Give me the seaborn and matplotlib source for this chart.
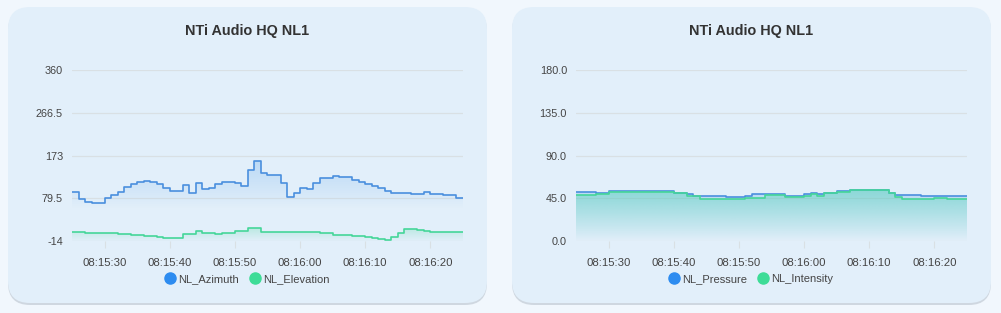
import numpy as np
import pandas as pd
import matplotlib
matplotlib.use("Agg")
import matplotlib.pyplot as plt
import matplotlib.dates as mdates
from matplotlib.patches import FancyBboxPatch
from matplotlib.lines import Line2D
import seaborn as sns

# ---------------- data ----------------
start_time = "2024-01-01 08:15:25"
n_points = 61
tick_labels = ["08:15:30", "08:15:40", "08:15:50", "08:16:00", "08:16:10", "08:16:20"]

nl_azimuth = [94, 77, 72, 68.5, 68.5, 79.5, 87, 94, 105, 111,
              114.5, 117.5, 114.5, 110, 103, 96, 96, 109.5, 90.5, 112,
              99, 101.5, 110.5, 114.5, 114.5, 112, 107, 141.5, 162, 134,
              131, 131, 112, 83, 90.5, 103, 99, 112, 123, 123,
              128.5, 125.5, 125.5, 119.5, 115, 111, 106.5, 101.5, 96, 90.5,
              90.5, 92, 89, 89, 92.5, 88, 88, 86, 86, 81, 81]
nl_elevation = [5, 5, 4, 3.5, 3.5, 3, 2.5, 2, 1, 0,
                -1, -2.5, -3.5, -5, -7, -8, -8, 0.5, 0.5, 8,
                3, 3, 0.5, 4.3, 4.3, 7, 7, 13.5, 13.5, 6,
                5.5, 5.5, 5, 5, 5, 5, 5, 5, 3, 3,
                0, 0, 0, -3, -3, -5, -7, -10, -12.5, -4.5,
                4, 11.5, 11.5, 10, 8, 6, 5.5, 5.5, 5.5, 5.5, 5.5]
nl_pressure = [51.3, 51.3, 51.3, 51, 51, 52.5, 52.5, 53, 53, 53,
               53, 53, 53, 53, 52.6, 51, 51, 49.5, 47.7, 47.7,
               47.7, 47.7, 47.7, 46.7, 46.7, 46.7, 47.7, 49.5, 49.5, 49.1,
               49.1, 49.1, 47.7, 47.7, 47.7, 49.1, 50.2, 49.5, 50.9, 50.9,
               52.6, 52.6, 53.7, 53.7, 54, 54, 54, 54, 51, 48.4,
               48.4, 48.4, 48.4, 47.6, 47.6, 47.6, 47.6, 47.6, 47.6, 47.4, 47.4]
nl_intensity = [48.4, 48.4, 48.4, 49.5, 49.5, 51.3, 51.3, 52, 52, 52,
                52, 52, 52, 52, 52, 50.2, 50.2, 47.7, 47.7, 44.5,
                44.5, 44.5, 44.5, 44.5, 44.5, 44.5, 45.6, 45.6, 45.6, 48.4,
                48.4, 48.4, 46.3, 46.3, 46.3, 47.7, 49.8, 47.7, 50.2, 50.2,
                51.7, 51.7, 53.3, 53.3, 53.5, 53.5, 53.5, 53.5, 50.5, 46.7,
                44.2, 44.2, 44.2, 44.2, 44.2, 45.3, 45.3, 44.2, 44.2, 44.2, 44.2]

left_yticks = [-14, 79.5, 173, 266.5, 360]
left_yticklabels = ["-14", "79.5", "173", "266.5", "360"]
right_yticks = [0, 45, 90, 135, 180]
right_yticklabels = ["0.0", "45.0", "90.0", "135.0", "180.0"]

chart_title = "NTi Audio HQ NL1"
left_series = ["NL_Azimuth", "NL_Elevation"]
right_series = ["NL_Pressure", "NL_Intensity"]

# ---------------- style ----------------
W, H = 1001, 313
page_bg = "#f1f7fd"
card_bg = "#e2effa"
blue_line = "#4a8fde"
green_line = "#45d699"
blue_dot = "#2d8cf0"
green_dot = "#3ddc97"
grid_col = "#d9e0e4"
text_col = "#444444"

sns.set_theme(style="white")
plt.rcParams["font.family"] = ["Liberation Sans", "DejaVu Sans"]

times = pd.date_range(start_time, periods=n_points, freq="s")
df = pd.DataFrame({"time": times,
                   "NL_Azimuth": nl_azimuth, "NL_Elevation": nl_elevation,
                   "NL_Pressure": nl_pressure, "NL_Intensity": nl_intensity})

fig = plt.figure(figsize=(W / 100, H / 100), dpi=100)
fig.patch.set_facecolor(page_bg)

# background card layer in pixel coords
bg = fig.add_axes([0, 0, 1, 1], zorder=-10)
bg.set_xlim(0, W)
bg.set_ylim(H, 0)
bg.axis("off")
for (x0, x1) in [(8, 487), (512, 991)]:
    shadow = FancyBboxPatch((x0, 9), x1 - x0, 296, boxstyle="round,pad=0,rounding_size=22",
                            fc="#b9c3ce", ec="none", alpha=0.6)
    bg.add_patch(shadow)
    card = FancyBboxPatch((x0, 7), x1 - x0, 296, boxstyle="round,pad=0,rounding_size=22",
                          fc=card_bg, ec="none")
    bg.add_patch(card)


def px_axes(x0, x1, ytop, ybot):
    return fig.add_axes([x0 / W, 1 - ybot / H, (x1 - x0) / W, (ybot - ytop) / H])


def gradient_fill(ax, xnum, y, color, a_top, y_hi, y_lo):
    poly = ax.fill_between(xnum, y, y_lo - 1000, step="post", color="none", lw=0)
    path = poly.get_paths()[0]
    rgb = matplotlib.colors.to_rgb(color)
    n = 256
    grad = np.zeros((n, 1, 4))
    grad[:, 0, :3] = rgb
    grad[:, 0, 3] = np.linspace(a_top, 0, n)
    ylim = ax.get_ylim()
    xlim = ax.get_xlim()
    im = ax.imshow(grad, aspect="auto", extent=[xnum[0], xnum[-1], y_lo, y_hi],
                   origin="upper", zorder=1, interpolation="bilinear")
    im.set_clip_path(path, transform=ax.transData)
    ax.set_ylim(ylim)
    ax.set_xlim(xlim)


def style_axes(ax, yticks, yticklabels, ylim):
    ax.set_facecolor("none")
    ax.set_ylim(*ylim)
    ax.set_xlim(times[0], times[-1])
    ax.set_yticks(yticks)
    ax.set_yticklabels(yticklabels)
    ax.set_xticks(pd.to_datetime(["2024-01-01 " + t for t in tick_labels]))
    ax.set_xticklabels(tick_labels)
    ax.grid(axis="y", color=grid_col, lw=0.9)
    ax.grid(axis="x", visible=False)
    for s in ax.spines.values():
        s.set_visible(False)
    ax.tick_params(axis="y", length=0, pad=6.5, labelsize=7.8, labelcolor=text_col)
    ax.tick_params(axis="x", length=5, width=0.8, color=grid_col, pad=7.5,
                   labelsize=8.2, labelcolor=text_col, bottom=True)
    ax.set_xlabel("")
    ax.set_ylabel("")


xnum = mdates.date2num(times)

# ---------------- left chart ----------------
axL = px_axes(72, 463, 70, 241)
sns.lineplot(data=df, x="time", y="NL_Azimuth", ax=axL, color=blue_line, lw=1.2,
             drawstyle="steps-post", legend=False, zorder=3)
sns.lineplot(data=df, x="time", y="NL_Elevation", ax=axL, color=green_line, lw=1.2,
             drawstyle="steps-post", legend=False, zorder=3)
style_axes(axL, left_yticks, left_yticklabels, (-14, 360))
gradient_fill(axL, xnum, np.array(nl_azimuth), "#4a9be8", 0.26, max(nl_azimuth), 55)
gradient_fill(axL, xnum, np.array(nl_elevation), "#45d699", 0.25, max(nl_elevation), -14)

# ---------------- right chart ----------------
axR = px_axes(576, 967, 70, 241)
sns.lineplot(data=df, x="time", y="NL_Pressure", ax=axR, color=blue_line, lw=1.2,
             drawstyle="steps-post", legend=False, zorder=3)
sns.lineplot(data=df, x="time", y="NL_Intensity", ax=axR, color=green_line, lw=1.2,
             drawstyle="steps-post", legend=False, zorder=3)
style_axes(axR, right_yticks, right_yticklabels, (0, 180))
gradient_fill(axR, xnum, np.array(nl_pressure), "#4aa3e8", 0.28, max(nl_pressure), 0)
gradient_fill(axR, xnum, np.array(nl_intensity), "#45d6a6", 0.38, max(nl_intensity), 0)

# ---------------- titles & legends ----------------
for cx, names in [(247.5, left_series), (751.5, right_series)]:
    fig.text(cx / W, 1 - 31 / H, chart_title, ha="center", va="center",
             fontsize=10.4, fontweight="bold", color="#333333")
    handles = [Line2D([], [], ls="none", marker="o", ms=8, mfc=c, mec=c)
               for c in (blue_dot, green_dot)]
    fig.legend(handles, names, loc="center", bbox_to_anchor=(cx / W, 1 - 279 / H),
               ncol=2, frameon=False, fontsize=8, handletextpad=0.35,
               columnspacing=1.0, labelcolor=text_col, handlelength=0.8,
               borderaxespad=0, borderpad=0)

fig.savefig("out.png", dpi=100, facecolor=page_bg)
